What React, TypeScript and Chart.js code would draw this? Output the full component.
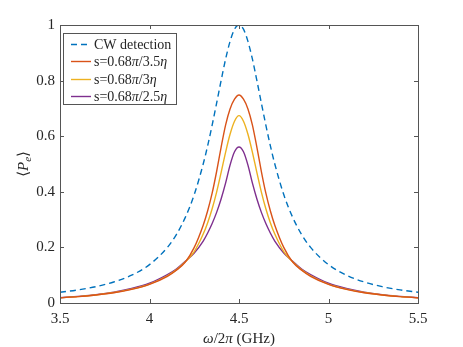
import React, { useEffect, useRef } from "react";
import { Chart, registerables } from "chart.js";

Chart.register(...registerables);

// ---- data ----
const freqGHz = [
  3.5, 3.6, 3.7, 3.8, 3.9, 4.0, 4.1, 4.15, 4.2, 4.25, 4.3, 4.325, 4.35, 4.375, 4.4, 4.425, 4.45, 4.475,
  4.5,
  4.525, 4.55, 4.575, 4.6, 4.625, 4.65, 4.675, 4.7, 4.75, 4.8, 4.85, 4.9, 5.0, 5.1, 5.2, 5.3, 5.4, 5.5,
];

const cwDetection = [
  0.0385, 0.0471, 0.0588, 0.0755, 0.1, 0.138, 0.2, 0.246, 0.308, 0.39, 0.5, 0.566, 0.64, 0.719, 0.8, 0.877, 0.941, 0.985,
  1.0,
  0.985, 0.941, 0.877, 0.8, 0.719, 0.64, 0.566, 0.5, 0.39, 0.308, 0.246, 0.2, 0.138, 0.1, 0.0755, 0.0588, 0.0471, 0.0385,
];

const s35 = [
  0.019, 0.023, 0.029, 0.037, 0.049, 0.067, 0.096, 0.118, 0.147, 0.2, 0.28, 0.332, 0.395, 0.473, 0.56, 0.64, 0.698, 0.733,
  0.748,
  0.733, 0.698, 0.64, 0.56, 0.473, 0.395, 0.332, 0.28, 0.2, 0.147, 0.118, 0.096, 0.067, 0.049, 0.037, 0.029, 0.023, 0.019,
];

const s30 = [
  0.019, 0.023, 0.029, 0.038, 0.05, 0.068, 0.098, 0.119, 0.148, 0.185, 0.248, 0.289, 0.339, 0.399, 0.469, 0.542, 0.607, 0.654,
  0.674,
  0.654, 0.607, 0.542, 0.469, 0.399, 0.339, 0.289, 0.248, 0.185, 0.148, 0.119, 0.098, 0.068, 0.05, 0.038, 0.029, 0.023, 0.019,
];

const s25 = [
  0.019, 0.024, 0.03, 0.039, 0.052, 0.071, 0.102, 0.122, 0.15, 0.18, 0.223, 0.252, 0.286, 0.326, 0.374, 0.431, 0.496, 0.544,
  0.561,
  0.544, 0.496, 0.431, 0.374, 0.326, 0.286, 0.252, 0.223, 0.18, 0.15, 0.122, 0.102, 0.071, 0.052, 0.039, 0.03, 0.024, 0.019,
];

const seriesLabels = ["CW detection", "s=0.68π/3.5η", "s=0.68π/3η", "s=0.68π/2.5η"];
const seriesColors = ["#0072BD", "#D95319", "#EDB120", "#7E2F8E"];
const seriesValues = [cwDetection, s35, s30, s25];

const xTicks = [3.5, 4, 4.5, 5, 5.5];
const yTicks = [0, 0.2, 0.4, 0.6, 0.8, 1];
const xTitle = "ω/2π (GHz)";

// ---- helpers ----
const FONT = "'Liberation Serif', 'DejaVu Serif', 'Times New Roman', serif";
const TEXT_COLOR = "#262626";
const AXIS_COLOR = "#555555";

type Seg = { t: string; it?: boolean; sub?: boolean };

function richSegments(label: string): Seg[] {
  const segs: Seg[] = [];
  for (const ch of label) {
    const it = /[\u03b1-\u03c9]/.test(ch);
    const last = segs[segs.length - 1];
    if (last && !!last.it === it) last.t += ch;
    else segs.push({ t: ch, it });
  }
  return segs;
}

function drawSegs(
  ctx: CanvasRenderingContext2D,
  segs: Seg[],
  x: number,
  y: number,
  size: number,
  align: "left" | "center"
) {
  const fontOf = (s: Seg) => `${s.it ? "italic " : ""}${s.sub ? Math.round(size * 0.72) : size}px ${FONT}`;
  const widths = segs.map((s) => {
    ctx.font = fontOf(s);
    return ctx.measureText(s.t).width;
  });
  const total = widths.reduce((a, b) => a + b, 0);
  let cx = align === "center" ? x - total / 2 : x;
  ctx.textAlign = "left";
  ctx.textBaseline = "alphabetic";
  segs.forEach((s, i) => {
    ctx.font = fontOf(s);
    ctx.fillText(s.t, cx, s.sub ? y + size * 0.22 : y);
    cx += widths[i];
  });
}

const decorPlugin = {
  id: "matlabDecor",
  afterDraw(chart: any) {
    const ctx: CanvasRenderingContext2D = chart.ctx;
    const { left, right, top, bottom } = chart.chartArea;
    const xs = chart.scales.x;
    const ys = chart.scales.y;
    ctx.save();

    // box
    ctx.strokeStyle = AXIS_COLOR;
    ctx.lineWidth = 1;
    ctx.setLineDash([]);
    ctx.strokeRect(Math.round(left) + 0.5, Math.round(top) + 0.5, Math.round(right - left), Math.round(bottom - top));

    // inward ticks
    const tl = 4;
    ctx.beginPath();
    xTicks.forEach((v) => {
      const px = Math.round(xs.getPixelForValue(v)) + 0.5;
      ctx.moveTo(px, bottom);
      ctx.lineTo(px, bottom - tl);
      ctx.moveTo(px, top);
      ctx.lineTo(px, top + tl);
    });
    yTicks.forEach((v) => {
      const py = Math.round(ys.getPixelForValue(v)) + 0.5;
      ctx.moveTo(left, py);
      ctx.lineTo(left + tl, py);
      ctx.moveTo(right, py);
      ctx.lineTo(right - tl, py);
    });
    ctx.stroke();

    // x title
    ctx.fillStyle = TEXT_COLOR;
    drawSegs(ctx, richSegments(xTitle), (left + right) / 2, 343, 15, "center");

    // y title  <P_e>
    ctx.save();
    ctx.translate(28, (top + bottom) / 2);
    ctx.rotate(-Math.PI / 2);
    drawSegs(
      ctx,
      [{ t: "⟨" }, { t: "P", it: true }, { t: "e", it: true, sub: true }, { t: "⟩" }],
      0,
      0,
      15,
      "center"
    );
    ctx.restore();

    // legend
    const lx = left + 3;
    const ly = top + 8;
    const lw = 113;
    const lh = 71;
    ctx.fillStyle = "#ffffff";
    ctx.fillRect(lx, ly, lw, lh);
    ctx.strokeStyle = AXIS_COLOR;
    ctx.lineWidth = 1;
    ctx.strokeRect(Math.round(lx) + 0.5, Math.round(ly) + 0.5, lw, lh);
    seriesLabels.forEach((lab, i) => {
      const cy = Math.round(ly + 11 + i * 17.4) + 0.5;
      ctx.strokeStyle = seriesColors[i];
      ctx.lineWidth = 1.4;
      ctx.setLineDash(i === 0 ? [6, 4] : []);
      ctx.beginPath();
      ctx.moveTo(lx + 8, cy);
      ctx.lineTo(lx + 28, cy);
      ctx.stroke();
      ctx.setLineDash([]);
      ctx.fillStyle = TEXT_COLOR;
      drawSegs(ctx, richSegments(lab), lx + 31, cy + 4.5, 14, "left");
    });

    ctx.restore();
  },
};

export default function App() {
  const canvasRef = useRef<HTMLCanvasElement | null>(null);

  useEffect(() => {
    const canvas = canvasRef.current;
    if (!canvas) return;
    const datasets = seriesValues.map((vals, i) => ({
      label: seriesLabels[i],
      data: freqGHz.map((x, j) => ({ x, y: vals[j] })),
      borderColor: seriesColors[i],
      backgroundColor: seriesColors[i],
      borderWidth: 1.4,
      borderDash: i === 0 ? [6, 4] : [],
      pointRadius: 0,
      fill: false,
      cubicInterpolationMode: "monotone" as const,
    }));
    const chart = new Chart(canvas, {
      type: "line",
      data: { datasets },
      options: {
        animation: false,
        responsive: false,
        devicePixelRatio: 1,
        layout: { padding: { left: 0, right: 45, top: 25, bottom: 0 } },
        plugins: { legend: { display: false }, tooltip: { enabled: false } },
        scales: {
          x: {
            type: "linear",
            min: 3.5,
            max: 5.5,
            afterBuildTicks: (s: any) => {
              s.ticks = xTicks.map((v) => ({ value: v }));
            },
            afterFit: (s: any) => {
              s.height = 44;
            },
            grid: { display: false, drawTicks: false },
            border: { display: false },
            ticks: {
              color: TEXT_COLOR,
              font: { family: FONT, size: 15 },
              padding: 7,
              maxRotation: 0,
              autoSkip: false,
              callback: (v: any) => String(+Number(v).toFixed(2)),
            },
          },
          y: {
            type: "linear",
            min: 0,
            max: 1,
            afterBuildTicks: (s: any) => {
              s.ticks = yTicks.map((v) => ({ value: v }));
            },
            afterFit: (s: any) => {
              s.width = 60;
            },
            grid: { display: false, drawTicks: false },
            border: { display: false },
            ticks: {
              color: TEXT_COLOR,
              font: { family: FONT, size: 15 },
              padding: 5,
              autoSkip: false,
              callback: (v: any) => String(+Number(v).toFixed(2)),
            },
          },
        },
      },
      plugins: [decorPlugin],
    });
    return () => chart.destroy();
  }, []);

  return (
    <div style={{ position: "absolute", left: 0, top: 0, width: 463, height: 347, background: "#ffffff" }}>
      <canvas ref={canvasRef} width={463} height={347} style={{ display: "block" }} />
    </div>
  );
}
